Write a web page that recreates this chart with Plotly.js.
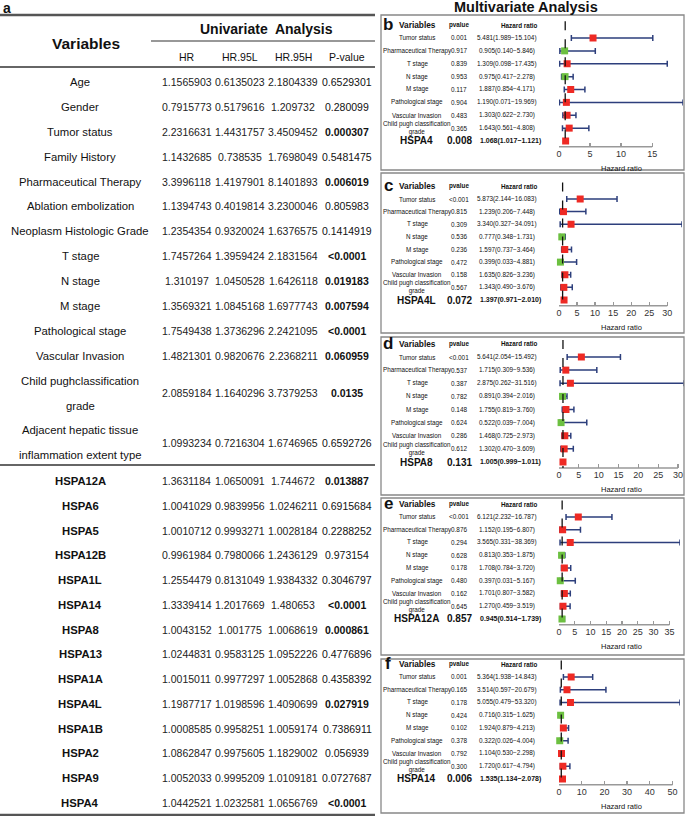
<!DOCTYPE html>
<html><head><meta charset="utf-8">
<script src="https://cdn.plot.ly/plotly-3.0.1.min.js"></script>
<style>body{margin:0;background:#fff}</style></head>
<body><div id="chart" style="width:685px;height:816px"></div>
<script>
// ---------- Panel a: univariate table ----------
const uniVars = ["Age","Gender","Tumor status","Family History","Pharmaceutical Therapy","Ablation embolization","Neoplasm Histologic Grade","T stage","N stage","M stage","Pathological stage","Vascular Invasion","Child pughclassification\ngrade","Adjacent hepatic tissue\ninflammation extent type"];
const uniHR   = ["1.1565903","0.7915773","2.2316631","1.1432685","3.3996118","1.1394743","1.2354354","1.7457264","1.310197","1.3569321","1.7549438","1.4821301","2.0859184","1.0993234"];
const uniLow  = ["0.6135023","0.5179616","1.4431757","0.738535","1.4197901","0.4019814","0.9320024","1.3959424","1.0450528","1.0845168","1.3736296","0.9820676","1.1640296","0.7216304"];
const uniHigh = ["2.1804339","1.209732","3.4509452","1.7698049","8.1401893","3.2300046","1.6376575","2.1831564","1.6426118","1.6977743","2.2421095","2.2368211","3.7379253","1.6746965"];
const uniP    = ["0.6529301","0.280099","0.000307","0.5481475","0.006019","0.805983","0.1414919","<0.0001","0.019183","0.007594","<0.0001","0.060959","0.0135","0.6592726"];
const uniPBold = [0,0,1,0,1,0,0,1,1,1,1,1,1,0];

const genes    = ["HSPA12A","HSPA6","HSPA5","HSPA12B","HSPA1L","HSPA14","HSPA8","HSPA13","HSPA1A","HSPA4L","HSPA1B","HSPA2","HSPA9","HSPA4"];
const geneHR   = ["1.3631184","1.0041029","1.0010712","0.9961984","1.2554479","1.3339414","1.0043152","1.0244831","1.0015011","1.1987717","1.0008585","1.0862847","1.0052033","1.0442521"];
const geneLow  = ["1.0650091","0.9839956","0.9993271","0.7980066","0.8131049","1.2017669","1.001775","0.9583125","0.9977297","1.0198596","0.9958251","0.9975605","0.9995209","1.0232581"];
const geneHigh = ["1.744672","1.0246211","1.0028184","1.2436129","1.9384332","1.480653","1.0068619","1.0952226","1.0052868","1.4090699","1.0059174","1.1829002","1.0109181","1.0656769"];
const geneP    = ["0.013887","0.6915684","0.2288252","0.973154","0.3046797","<0.0001","0.000861","0.4776896","0.4358392","0.027919","0.7386911","0.056939","0.0727687","<0.0001"];
const genePBold = [1,0,0,0,0,1,1,0,0,1,0,0,0,1];

const uniColHeaders = ["HR","HR.95L","HR.95H","P-value"];

// ---------- Panels b-f: multivariate forest plots ----------
const mvVars = ["Tumor status","Pharmaceutical Therapy","T stage","N stage","M stage","Pathological stage","Vascular Invasion","Child pugh classification<br>grade"];
const panelLetters = ["b","c","d","e","f"];
const panelGenes = ["HSPA4","HSPA4L","HSPA8","HSPA12A","HSPA14"];

const pB    = ["0.001","0.917","0.839","0.953","0.117","0.904","0.483","0.365","0.008"];
const hrB   = [5.481,0.905,1.309,0.975,1.887,1.190,1.303,1.643,1.068];
const lowB  = [1.989,0.140,0.098,0.417,0.854,0.071,0.622,0.561,1.017];
const highB = [15.104,5.846,17.435,2.278,4.171,19.969,2.730,4.808,1.121];

const pC    = ["<0.001","0.815","0.309","0.536","0.236","0.472","0.158","0.567","0.072"];
const hrC   = [5.873,1.239,3.340,0.777,1.597,0.399,1.635,1.343,1.397];
const lowC  = [2.144,0.206,0.327,0.348,0.737,0.033,0.826,0.490,0.971];
const highC = [16.083,7.448,34.091,1.731,3.464,4.881,3.236,3.676,2.010];

const pD    = ["<0.001","0.537","0.387","0.782","0.148","0.624","0.286","0.612","0.131"];
const hrD   = [5.641,1.715,2.875,0.891,1.755,0.522,1.468,1.302,1.005];
const lowD  = [2.054,0.309,0.262,0.394,0.819,0.039,0.725,0.470,0.999];
const highD = [15.492,9.536,31.516,2.016,3.760,7.004,2.973,3.609,1.011];

const pE    = ["<0.001","0.876","0.294","0.628","0.178","0.480","0.162","0.645","0.857"];
const hrE   = [6.121,1.152,3.565,0.813,1.708,0.397,1.701,1.270,0.945];
const lowE  = [2.232,0.195,0.331,0.353,0.784,0.031,0.807,0.459,0.514];
const highE = [16.787,6.807,38.369,1.875,3.720,5.167,3.582,3.519,1.739];

const pF    = ["0.001","0.165","0.178","0.424","0.102","0.378","0.792","0.300","0.006"];
const hrF   = [5.364,3.514,5.055,0.716,1.924,0.322,1.104,1.720,1.535];
const lowF  = [1.938,0.597,0.479,0.315,0.879,0.026,0.530,0.617,1.134];
const highF = [14.843,20.679,53.320,1.625,4.213,4.004,2.298,4.794,2.078];

const panelP = [pB,pC,pD,pE,pF];
const panelHR = [hrB,hrC,hrD,hrE,hrF];
const panelLow = [lowB,lowC,lowD,lowE,lowF];
const panelHigh = [highB,highC,highD,highE,highF];
const panelDtick = [5,5,5,5,10];

// ---------- layout helpers ----------
const W = 685, H = 816;
const FONT = "Liberation Sans, Arial, sans-serif";
const px = x => x / W, py = y => 1 - y / H;
const annotations = [], shapes = [], traces = [];
const layout = {width: W, height: H, margin: {l:0,r:0,t:0,b:0}, paper_bgcolor: "#fff", plot_bgcolor: "rgba(0,0,0,0)", showlegend: false, annotations, shapes, font: {family: FONT}};

function ann(text, x, y, size, opt) {
  opt = opt || {};
  annotations.push(Object.assign({
    text: text, x: x, y: y, xref: "paper", yref: "paper", showarrow: false,
    xanchor: "center", yanchor: "middle", font: {family: FONT, size: size, color: opt.color || "#111"}
  }, opt.extra || {}));
}
function hline(x0, x1, y, w, c) {
  shapes.push({type: "line", xref: "paper", yref: "paper", x0: px(x0), x1: px(x1), y0: py(y), y1: py(y), line: {color: c || "#444", width: w}});
}

// ---------- table (panel a) ----------
const TR = 375;
ann("<b>a</b>", px(7), py(8), 14);
hline(0, TR, 15, 2.5, "#555");
ann("<b>Variables</b>", px(86), py(43), 15.5);
ann("<b>Univariate  Analysis</b>", px(266), py(29), 14);
hline(151, TR, 41, 1.2, "#333");
const colX = [187, 240, 293, 347];
uniColHeaders.forEach((h, j) => ann(h, px(colX[j]), py(57), 10.5));
hline(0, TR, 67, 1.5, "#333");

const labelX = 80, unit = 24.9;
let cursor = 69.5;
uniVars.forEach((v, i) => {
  const lines = v.split("\n");
  const units = lines.length;
  const cy = cursor + units * unit / 2;
  lines.forEach((ln, k) => ann(ln, px(labelX), py(cy + (k - (units - 1) / 2) * 25), 11.3));
  const vals = [uniHR[i], uniLow[i], uniHigh[i]];
  vals.forEach((t, j) => ann(t, px(colX[j]), py(cy), 10.5, {color: "#222"}));
  ann(uniPBold[i] ? "<b>" + uniP[i] + "</b>" : uniP[i], px(colX[3]), py(cy), 10.5, {color: "#111"});
  cursor += units * unit;
});
hline(0, TR, 465, 1.5, "#333");
const g0 = 481, gs = 24.75;
genes.forEach((g, i) => {
  const cy = g0 + i * gs;
  ann("<b>" + g + "</b>", px(labelX), py(cy), 11.3);
  [geneHR[i], geneLow[i], geneHigh[i]].forEach((t, j) => ann(t, px(colX[j]), py(cy), 10.5, {color: "#222"}));
  ann(genePBold[i] ? "<b>" + geneP[i] + "</b>" : geneP[i], px(colX[3]), py(cy), 10.5);
});
hline(0, TR, 815, 2.5, "#555");

// ---------- forest panels ----------
ann("<b>Multivariate Analysis</b>", px(526), py(7), 14.5);
const boxes = [[15,170],[173,333],[337,495],[498,655],[659,813]];
const rowGeom = [[38,12.875],[199,12.625],[357,13.125],[517,12.75],[677,12.75]];
const xEnd = [683, 682, 684, 680, 680];
const YR = [8.45, -1.5];
const RED = "#ee2a24", GREEN = "#6cc040", NAVY = "#2d3f7c";

panelLetters.forEach((L, k) => {
  const n = k + 2, xa = "x" + n, ya = "y" + n;
  const [r0, s] = rowGeom[k];
  const top = r0 + YR[1] * s, bot = r0 + YR[0] * s;
  const hr = panelHR[k], lo = panelLow[k], hi = panelHigh[k], pv = panelP[k];
  const maxHi = Math.max.apply(null, hi);
  const dt = panelDtick[k];
  const lastTick = Math.floor(maxHi / dt) * dt;
  layout["xaxis" + n] = {domain: [px(559), px(xEnd[k])], range: [0, maxHi], anchor: ya, showgrid: false, zeroline: false, showline: false,
    ticks: "inside", ticklen: 4, tickwidth: 1.2, tickcolor: "#999", dtick: dt, tick0: 0,
    tickfont: {family: FONT, size: 9, color: "#333"}, fixedrange: true};
  layout["yaxis" + n] = {domain: [py(bot), py(top)], range: YR, anchor: xa, visible: false, fixedrange: true};
  shapes.push({type: "rect", xref: "paper", yref: "paper", x0: px(381), x1: px(684), y0: py(boxes[k][1]), y1: py(boxes[k][0]), line: {color: "#888", width: 1.3}});
  shapes.push({type: "line", xref: xa, yref: ya + " domain", x0: 0, x1: lastTick, y0: 0, y1: 0, line: {color: "#999", width: 1.5}});
  shapes.push({type: "line", xref: xa, yref: ya, x0: 1, x1: 1, y0: -1.3, y1: YR[0], line: {color: "#111", width: 1.3, dash: "dash"}});
  const ys = hr.map((_, i) => i);
  traces.push({type: "scatter", mode: "markers", x: hr, y: ys, xaxis: xa, yaxis: ya, cliponaxis: false, hoverinfo: "skip",
    error_x: {type: "data", symmetric: false, array: hr.map((v, i) => hi[i] - v), arrayminus: hr.map((v, i) => v - lo[i]), color: NAVY, thickness: 1.5, width: 3},
    marker: {symbol: "square", size: 7, color: hr.map(v => v >= 1 ? RED : GREEN)}});
  const yref = ya;
  const a2 = (text, x, y, size, extra) => annotations.push(Object.assign({text, x: px(x), y, xref: "paper", yref, showarrow: false, xanchor: "center", yanchor: "middle", font: {family: FONT, size, color: "#111"}}, extra || {}));
  a2("<b>" + L + "</b>", 388, -1.05, 17);
  a2("<b>Variables</b>", 417, -1, 8.3);
  a2("<b>pvalue</b>", 459, -1, 6.3);
  a2("<b>Hazard ratio</b>", 519, -1, 6.3);
  const rows = mvVars.concat([panelGenes[k]]);
  rows.forEach((v, i) => {
    const last = i === rows.length - 1;
    const hrTxt = hr[i].toFixed(3) + "(" + lo[i].toFixed(3) + "\u2212" + hi[i].toFixed(3) + ")";
    if (last) {
      a2("<b>" + v + "</b>", 416, i, 10);
      a2("<b>" + pv[i] + "</b>", 459, i, 10);
      a2("<b>" + hrTxt + "</b>", 510, i, 7);
    } else {
      a2(v, 417, i, 6.3);
      a2(pv[i], 459, i, 6.4);
      a2(hrTxt, 507, i, 6.4);
    }
  });
  a2("Hazard ratio", 621, YR[0], 7.5, {yanchor: "top", yshift: -15});
});

Plotly.newPlot("chart", traces, layout, {displayModeBar: false, staticPlot: true});
</script></body></html>
